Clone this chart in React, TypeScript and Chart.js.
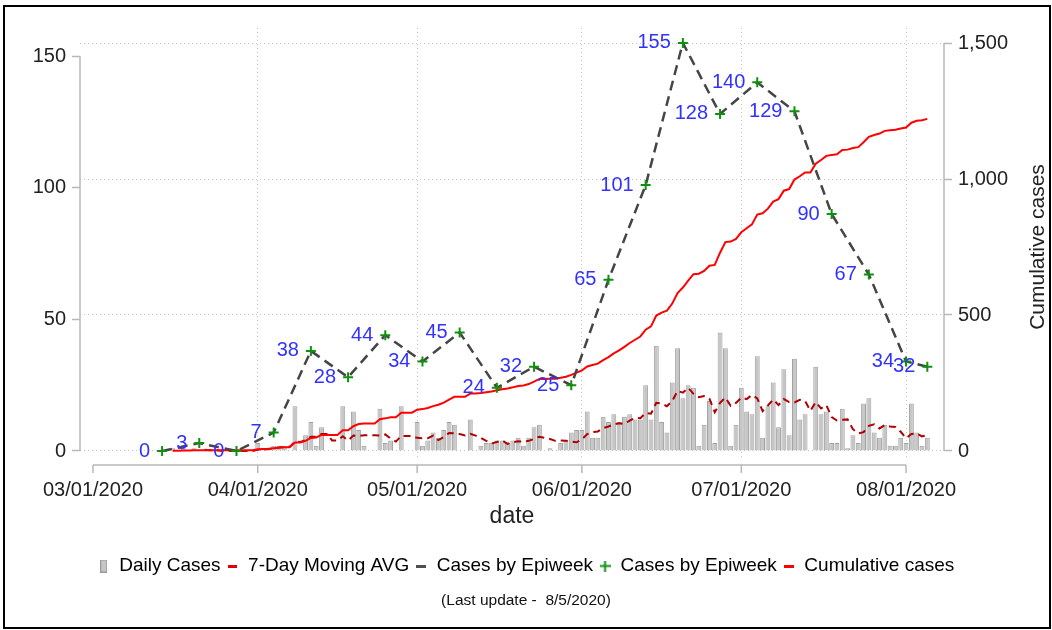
import React, { useEffect, useRef } from 'react';
import { Chart, registerables } from 'chart.js';

Chart.register(...registerables);

// ---------- data ----------
const xTickDates = ['03/01/2020', '04/01/2020', '05/01/2020', '06/01/2020', '07/01/2020', '08/01/2020'];
const leftTicks = [0, 50, 100, 150];
const rightTicks = [0, 500, 1000, 1500];

const dailyStart = '03/15/2020';
const dailyCases = [
  0, 1, 0, 1, 0, 1, 0,
  0, 0, 0, 0, 0, 0, 0,
  0, 0, 0, 3, 1, 1, 2,
  2, 2, 0, 17, 0, 6, 11,
  2, 9, 0, 0, 0, 17, 0,
  15, 8, 2, 0, 0, 16, 3,
  4, 0, 17, 0, 0, 11, 2,
  4, 7, 5, 8, 11, 10, 0,
  0, 12, 0, 2, 3, 3, 4,
  4, 3, 4, 5, 2, 5, 9,
  10, 0, 1, 0, 3, 4, 7,
  8, 8, 15, 5, 5, 13, 11,
  14, 11, 13, 14, 12, 12, 25,
  12, 40, 11, 7, 26, 39, 20,
  25, 24, 2, 10, 19, 3, 45,
  39, 2, 10, 24, 15, 14, 36,
  5, 17, 26, 9, 31, 6, 35,
  12, 14, 0, 32, 14, 15, 3,
  3, 16, 1, 6, 3, 18, 20,
  7, 5, 10, 2, 2, 5, 3,
  18, 7, 2, 5,
];

const movingAvgStart = '03/22/2020';
const movingAvg7 = [
  0.43, 0.29, 0.29, 0.14, 0.14, 0, 0,
  0, 0, 0, 0.43, 0.57, 0.71, 1.0,
  1.29, 1.57, 1.57, 3.57, 3.43, 4.14, 5.43,
  5.43, 6.43, 6.43, 4.0, 4.0, 5.57, 4.0,
  5.86, 5.71, 6.0, 6.0, 6.0, 5.86, 6.29,
  4.71, 3.57, 5.71, 5.71, 5.71, 5.0, 4.86,
  4.86, 5.86, 4.14, 5.29, 6.86, 6.71, 6.43,
  5.86, 6.57, 5.86, 5.0, 3.86, 2.86, 3.43,
  4.0, 2.71, 3.29, 3.71, 3.57, 3.86, 4.57,
  5.43, 5.0, 4.57, 3.86, 4.0, 3.86, 3.57,
  3.29, 4.43, 6.43, 7.14, 7.43, 8.71, 9.29,
  10.14, 10.57, 10.29, 11.57, 12.57, 12.43, 14.43,
  14.14, 18.29, 18.0, 17.0, 19.0, 22.86, 22.14,
  24.0, 21.71, 20.43, 20.86, 19.86, 14.71, 18.29,
  20.29, 17.14, 18.29, 20.29, 19.71, 21.29, 20.0,
  15.14, 17.29, 19.57, 17.43, 19.71, 18.57, 18.43,
  19.43, 19.0, 15.29, 18.57, 16.14, 17.43, 12.86,
  11.57, 11.86, 12.0, 8.29, 6.71, 7.14, 9.57,
  10.14, 8.57, 9.86, 9.29, 9.14, 7.29, 4.86,
  6.43, 6.71, 5.57, 6.0,
];

const cumulativeStart = '03/16/2020';
const cumulativeCases = [
  1, 1, 2, 2, 3, 3,
  3, 3, 3, 3, 3, 3, 3,
  3, 3, 3, 6, 7, 8, 10,
  12, 14, 14, 31, 31, 37, 48,
  50, 59, 59, 59, 59, 76, 76,
  91, 99, 101, 101, 101, 117, 120,
  124, 124, 141, 141, 141, 152, 154,
  158, 165, 170, 178, 189, 199, 199,
  199, 211, 211, 213, 216, 219, 223,
  227, 230, 234, 239, 241, 246, 255,
  265, 265, 266, 266, 269, 273, 280,
  288, 296, 311, 316, 321, 334, 345,
  359, 370, 383, 397, 409, 421, 446,
  458, 498, 509, 516, 542, 581, 601,
  626, 650, 652, 662, 681, 684, 729,
  768, 770, 780, 804, 819, 833, 869,
  874, 891, 917, 926, 957, 963, 998,
  1010, 1024, 1024, 1056, 1070, 1085, 1088,
  1091, 1107, 1108, 1114, 1117, 1135, 1155,
  1162, 1167, 1177, 1179, 1181, 1186, 1189,
  1207, 1214, 1216, 1221,
];

const epiweekDates = [
  '03/14/2020', '03/21/2020', '03/28/2020', '04/04/2020', '04/11/2020', '04/18/2020',
  '04/25/2020', '05/02/2020', '05/09/2020', '05/16/2020', '05/23/2020', '05/30/2020',
  '06/06/2020', '06/13/2020', '06/20/2020', '06/27/2020', '07/04/2020', '07/11/2020',
  '07/18/2020', '07/25/2020', '08/01/2020', '08/05/2020',
];
const epiweekCases = [0, 3, 0, 7, 38, 28, 44, 34, 45, 24, 32, 25, 65, 101, 155, 128, 140, 129, 90, 67, 34, 32];

const legendLabels = ['Daily Cases', '7-Day Moving AVG', 'Cases by Epiweek', 'Cases by Epiweek', 'Cumulative cases'];
const xTitle = 'date';
const y1Title = 'Cumulative cases';
const footnote = '(Last update -  8/5/2020)';

// ---------- helpers ----------
const FONT = "'Liberation Sans', Arial, sans-serif";

function dayOf(s: string): number {
  const [m, d, y] = s.split('/').map(Number);
  return Math.round((Date.UTC(y, m - 1, d) - Date.UTC(2020, 2, 1)) / 86400000);
}

function toPoints(start: string, values: number[]) {
  const s = dayOf(start);
  return values.map((v, i) => ({ x: s + i, y: v }));
}

function makeSymbol(w: number, h: number, draw: (c: CanvasRenderingContext2D) => void) {
  const cv = document.createElement('canvas');
  cv.width = w;
  cv.height = h;
  const c = cv.getContext('2d')!;
  draw(c);
  return cv;
}

export default function App() {
  const ref = useRef<HTMLCanvasElement | null>(null);

  useEffect(() => {
    if (!ref.current) return;
    Chart.defaults.font.family = FONT;

    const symbols = [
      makeSymbol(7, 13, (c) => {
        c.fillStyle = '#c6c6c6';
        c.fillRect(0, 0, 7, 13);
        c.strokeStyle = '#999';
        c.lineWidth = 1;
        c.strokeRect(0.5, 0.5, 6, 12);
      }),
      makeSymbol(9, 3, (c) => { c.fillStyle = '#e00000'; c.fillRect(0, 0, 9, 3); }),
      makeSymbol(10, 3, (c) => { c.fillStyle = '#505050'; c.fillRect(0, 0, 10, 3); }),
      makeSymbol(11, 11, (c) => {
        c.strokeStyle = '#109010';
        c.lineWidth = 2;
        c.beginPath();
        c.moveTo(0, 5.5); c.lineTo(11, 5.5);
        c.moveTo(5.5, 0); c.lineTo(5.5, 11);
        c.stroke();
      }),
      makeSymbol(10, 3, (c) => { c.fillStyle = '#ff0000'; c.fillRect(0, 0, 10, 3); }),
    ];
    const legendDatasetIndex = [3, 2, 0, 0, 1];

    const decorations = {
      id: 'decorations',
      afterDatasetsDraw(chart: any) {
        const { ctx, chartArea, scales } = chart;
        const x = scales.x, y = scales.y, y1 = scales.y1;
        ctx.save();
        ctx.strokeStyle = '#b8b8b8';
        ctx.lineWidth = 1.5;
        // left axis line
        ctx.beginPath();
        ctx.moveTo(chartArea.left, y.getPixelForValue(leftTicks[leftTicks.length - 1]));
        ctx.lineTo(chartArea.left, y.getPixelForValue(0));
        ctx.stroke();
        // right axis line
        ctx.beginPath();
        ctx.moveTo(chartArea.right, y1.getPixelForValue(rightTicks[rightTicks.length - 1]));
        ctx.lineTo(chartArea.right, y1.getPixelForValue(0));
        ctx.stroke();
        // x axis line with ticks
        const ay = chartArea.bottom + 7;
        const x0 = x.getPixelForValue(dayOf(xTickDates[0]));
        const x1 = x.getPixelForValue(dayOf(xTickDates[xTickDates.length - 1]));
        ctx.beginPath();
        ctx.moveTo(x0, ay);
        ctx.lineTo(x1, ay);
        xTickDates.forEach((t) => {
          const px = x.getPixelForValue(dayOf(t));
          ctx.moveTo(px, ay);
          ctx.lineTo(px, ay + 8);
        });
        ctx.stroke();

        // epiweek value labels
        const meta = chart.getDatasetMeta(0);
        ctx.fillStyle = '#3232ff';
        ctx.font = `20px ${FONT}`;
        ctx.textAlign = 'right';
        ctx.textBaseline = 'middle';
        meta.data.forEach((pt: any, i: number) => {
          ctx.fillText(String(epiweekCases[i]), pt.x - 12, pt.y);
        });

        // right axis title (reads bottom to top)
        ctx.save();
        const cy = (y1.getPixelForValue(0) + y1.getPixelForValue(rightTicks[rightTicks.length - 1])) / 2;
        ctx.translate(1038, cy);
        ctx.rotate(-Math.PI / 2);
        ctx.fillStyle = '#222';
        ctx.font = `21px ${FONT}`;
        ctx.textAlign = 'center';
        ctx.textBaseline = 'middle';
        ctx.fillText(y1Title, 0, 0);
        ctx.restore();
        ctx.restore();
      },
    };

    const chart = new Chart(ref.current, {
      type: 'bar',
      data: {
        datasets: [
          {
            type: 'line',
            label: 'Cases by Epiweek',
            data: epiweekDates.map((d, i) => ({ x: dayOf(d), y: epiweekCases[i] })),
            yAxisID: 'y',
            borderColor: '#454545',
            borderWidth: 2.5,
            borderDash: [10, 6],
            pointStyle: 'cross',
            pointRadius: 5,
            pointBorderColor: '#109010',
            pointBackgroundColor: '#109010',
            pointBorderWidth: 2,
            tension: 0,
            order: 0,
          },
          {
            type: 'line',
            label: 'Cumulative cases',
            data: toPoints(cumulativeStart, cumulativeCases),
            yAxisID: 'y1',
            borderColor: '#ff0000',
            borderWidth: 2,
            pointRadius: 0,
            tension: 0,
            order: 1,
          },
          {
            type: 'line',
            label: '7-Day Moving AVG',
            data: toPoints(movingAvgStart, movingAvg7),
            yAxisID: 'y',
            borderColor: '#b00000',
            borderWidth: 2,
            borderDash: [7, 5],
            pointRadius: 0,
            tension: 0,
            order: 2,
          },
          {
            type: 'bar',
            label: 'Daily Cases',
            data: toPoints(dailyStart, dailyCases),
            yAxisID: 'y',
            backgroundColor: '#c6c6c6',
            borderColor: '#a2a2a2',
            borderWidth: 1,
            categoryPercentage: 1,
            barPercentage: 0.92,
            order: 3,
          },
        ],
      },
      options: {
        responsive: false,
        animation: false,
        events: [],
        layout: { padding: { top: 28, left: 0, right: 0, bottom: 19.7 } },
        scales: {
          x: {
            type: 'linear',
            min: -2.446,
            max: 160.14,
            offset: false,
            afterBuildTicks: (s: any) => { s.ticks = xTickDates.map((t) => ({ value: dayOf(t) })); },
            afterFit: (s: any) => { s.height = 92.5; },
            grid: {
              offset: false,
              drawTicks: false,
              lineWidth: 1,
              color: (c: any) => (c.index === 0 ? 'rgba(0,0,0,0)' : '#c4c4c4'),
            },
            border: { display: false, dash: [1, 3] },
            ticks: {
              padding: 20,
              color: '#222',
              font: { size: 20 },
              maxRotation: 0,
              autoSkip: false,
              callback: (_v: any, i: number) => xTickDates[i],
            },
            title: {
              display: true,
              text: xTitle,
              color: '#222',
              font: { size: 23 },
              padding: { top: 0, bottom: 19.7 },
            },
          },
          y: {
            type: 'linear',
            position: 'left',
            min: -2.66,
            max: 160.65,
            afterBuildTicks: (s: any) => { s.ticks = leftTicks.map((v) => ({ value: v })); },
            afterFit: (s: any) => { s.width = 80; },
            grid: { drawOnChartArea: false, drawTicks: true, tickLength: 8, tickColor: '#b8b8b8', tickWidth: 1.5 },
            border: { display: false },
            ticks: { padding: 6, color: '#222', font: { size: 20 } },
          },
          y1: {
            type: 'linear',
            position: 'right',
            min: -25.74,
            max: 1555.15,
            afterBuildTicks: (s: any) => { s.ticks = rightTicks.map((v) => ({ value: v })); },
            afterFit: (s: any) => { s.width = 108; },
            grid: {
              drawOnChartArea: true,
              color: '#c4c4c4',
              lineWidth: 1,
              tickLength: 8,
              tickColor: '#b8b8b8',
              tickWidth: 1.5,
              tickBorderDash: [],
            },
            border: { display: false, dash: [1, 3] },
            ticks: {
              padding: 6,
              color: '#222',
              font: { size: 20 },
              callback: (v: any) => Number(v).toLocaleString('en-US'),
            },
          },
        },
        plugins: {
          tooltip: { enabled: false },
          legend: {
            position: 'bottom',
            onClick: () => {},
            labels: {
              usePointStyle: true,
              boxWidth: 12,
              padding: 6,
              color: '#111',
              font: { size: 19 },
              generateLabels: () =>
                legendLabels.map((text, i) => ({
                  text,
                  pointStyle: symbols[i],
                  fillStyle: 'rgba(0,0,0,0)',
                  strokeStyle: 'rgba(0,0,0,0)',
                  lineWidth: 0,
                  hidden: false,
                  datasetIndex: legendDatasetIndex[i],
                })),
            },
          },
          subtitle: {
            display: true,
            position: 'bottom',
            text: footnote,
            color: '#111',
            font: { size: 15.5, weight: 'normal' },
            padding: { top: 6.2, bottom: 0 },
          },
        },
      } as any,
      plugins: [decorations],
    } as any);

    return () => chart.destroy();
  }, []);

  return (
    <div style={{ position: 'fixed', left: 0, top: 0, width: 1052, height: 630, background: '#fff', overflow: 'hidden' }}>
      <canvas ref={ref} width={1052} height={630} style={{ position: 'absolute', left: 0, top: 0 }} />
      <div
        style={{
          position: 'absolute',
          left: 3,
          top: 5,
          width: 1048,
          height: 624,
          border: '2px solid #000',
          boxSizing: 'border-box',
          pointerEvents: 'none',
        }}
      />
    </div>
  );
}
